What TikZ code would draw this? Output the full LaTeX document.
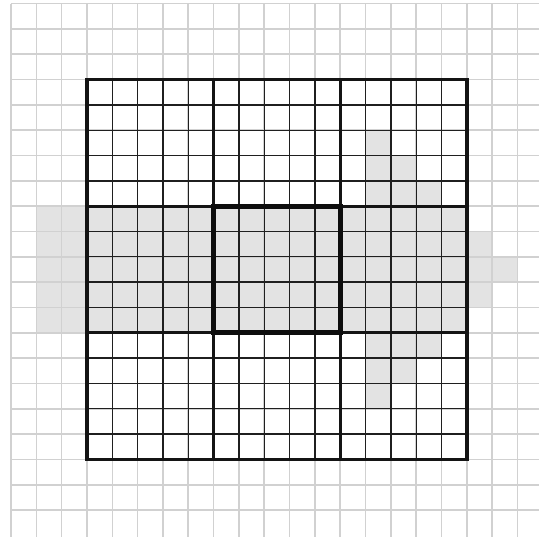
\documentclass[tikz,border=0pt]{standalone}
\begin{document}
\begin{tikzpicture}[x=0.5cm,y=-0.5cm,
  biggrid/.style={draw=black!18,line width=0.9pt},
  shade/.style={fill=black!11},
  finegrid/.style={draw=black!88,line width=0.75pt},
  blockline/.style={draw=black!92,line width=1.7pt},
  outerline/.style={draw=black!92,line width=2.1pt},
  centerline/.style={draw=black!95,line width=3.0pt,line cap=rect}]
\useasboundingbox (-0.434,-0.14) rectangle (20.846,21.06);
\clip (-0.434,-0.14) rectangle (20.846,21.06);
% shaded cells
\fill[shade] (1,8) rectangle (18,13);
\fill[shade] (14,5) rectangle (15,8);
\fill[shade] (15,6) rectangle (16,8);
\fill[shade] (16,7) rectangle (17,8);
\fill[shade] (14,13) rectangle (17,14);
\fill[shade] (14,14) rectangle (16,15);
\fill[shade] (14,15) rectangle (15,16);
\fill[shade] (18,9) rectangle (19,12);
\fill[shade] (19,10) rectangle (20,11);
% background grid
\foreach \i in {0,...,20} {
  \draw[biggrid] (\i,0) -- (\i,21.2);
}
\foreach \j in {0,...,20} {
  \draw[biggrid] (0,\j) -- (21,\j);
}
% fine grid inside the square
\foreach \i in {4,...,17} {
  \draw[finegrid] (\i,3) -- (\i,18);
  \draw[finegrid] (3,\i) -- (18,\i);
}
% block lines
\foreach \i in {8,13} {
  \draw[blockline] (\i,3) -- (\i,18);
  \draw[blockline] (3,\i) -- (18,\i);
}
\draw[outerline] (3,3) rectangle (18,18);
\draw[centerline] (8,8) rectangle (13,13);
\end{tikzpicture}
\end{document}
